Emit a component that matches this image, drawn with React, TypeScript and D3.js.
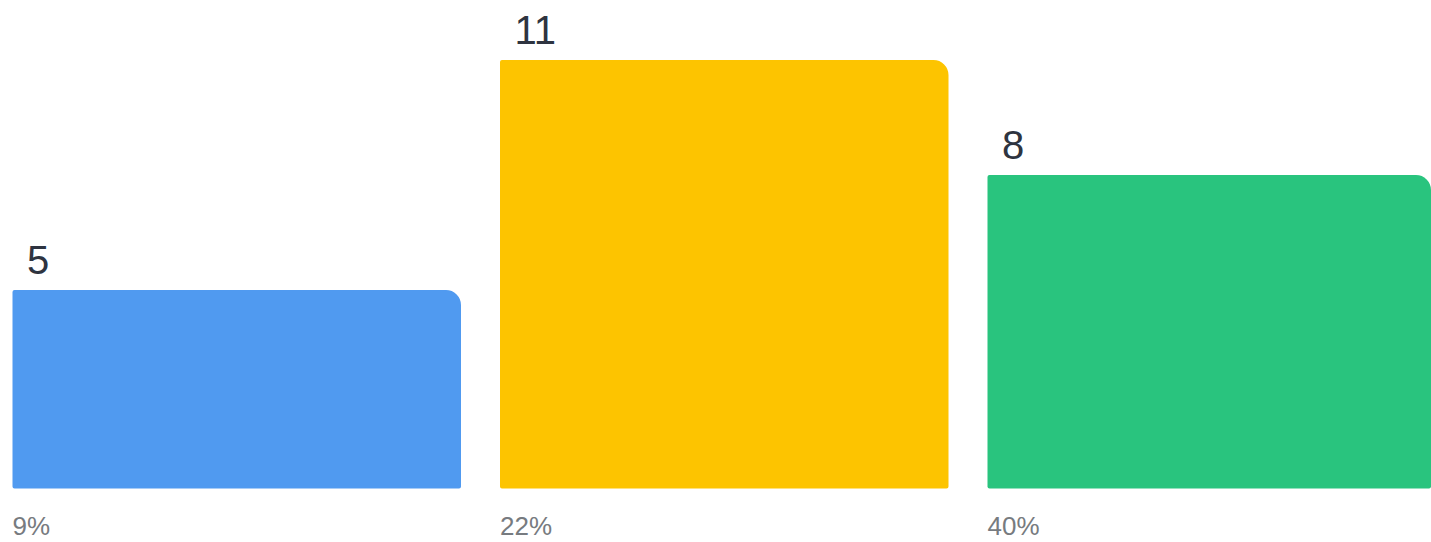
import React from "react";
import * as d3 from "d3";

const categories = ["A", "B", "C"];
const values = [5, 11, 8];
const percents = ["9%", "22%", "40%"];
const colors = ["#509AF0", "#FDC400", "#29C47E"];

const W = 1431;
const H = 542;
const BASE = 488.5;

function barPath(x0: number, x1: number, y0: number, y1: number, rTR: number, r: number) {
  return [
    `M${x0},${y1 - r}`,
    `L${x0},${y0 + r}`,
    `Q${x0},${y0} ${x0 + r},${y0}`,
    `L${x1 - rTR},${y0}`,
    `A${rTR},${rTR} 0 0 1 ${x1},${y0 + rTR}`,
    `L${x1},${y1 - r}`,
    `Q${x1},${y1} ${x1 - r},${y1}`,
    `L${x0 + r},${y1}`,
    `Q${x0},${y1} ${x0},${y1 - r}`,
    "Z",
  ].join(" ");
}

export default function App() {
  const x = d3.scaleBand<string>().domain(categories).range([12.5, 1436]).paddingInner(0.08);
  const y = d3.scaleLinear().domain([0, 11]).range([481.7, 60]);
  const font = "'Liberation Sans', Arial, Helvetica, sans-serif";
  return (
    <svg
      width={W}
      height={H}
      style={{ position: "absolute", left: 0, top: 0, display: "block" }}
    >
      {categories.map((c, i) => {
        const x0 = x(c)!;
        const x1 = Math.min(x0 + x.bandwidth(), W);
        const top = y(values[i]);
        return (
          <g key={c}>
            <path d={barPath(x0, x1, top, BASE, 15, 2)} fill={colors[i]} />
            <text
              x={x0 + 14.5}
              y={top - 16.5}
              fontFamily={font}
              fontSize={40}
              fill="#2E3440"
            >
              {values[i]}
            </text>
            <text x={x0} y={535} fontFamily={font} fontSize={26} fill="#777B80">
              {percents[i]}
            </text>
          </g>
        );
      })}
    </svg>
  );
}
